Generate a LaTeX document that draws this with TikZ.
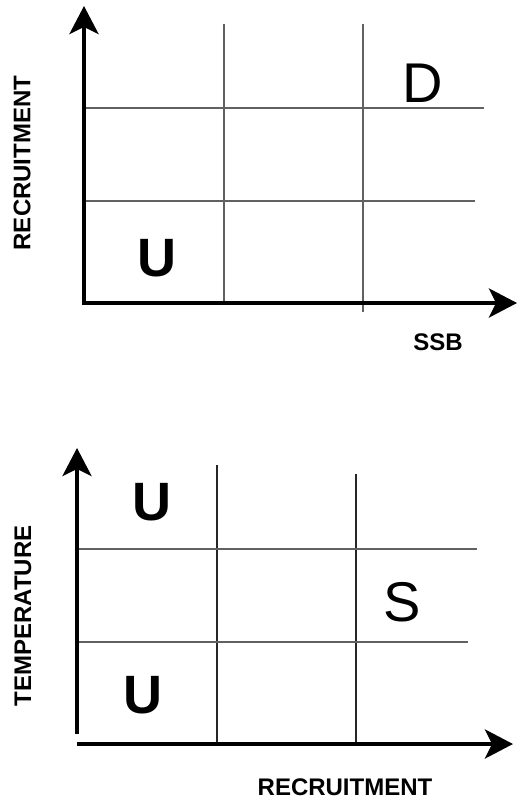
\documentclass[tikz,border=0pt]{standalone}
\usepackage{fontspec}
\setmainfont{Liberation Sans}
\usetikzlibrary{arrows.meta}
\tikzset{
  axis/.style={line width=4pt, -{Stealth[length=28pt, width=29pt, inset=7pt]}},
  grid/.style={line width=1.3pt, draw=black!62},
  gridv/.style={line width=1.1pt, draw=black!85},
  cell/.style={inner sep=0pt, font=\fontsize{54}{60}\selectfont\bfseries},
  cellr/.style={inner sep=0pt, font=\fontsize{56}{62}\selectfont},
  axlabel/.style={inner sep=0pt, font=\fontsize{24}{28}\selectfont\bfseries},
}
\begin{document}
\begin{tikzpicture}[x=1pt, y=-1pt]
\useasboundingbox (0,0) rectangle (518,801);

% ---- upper panel: recruitment vs SSB ----
\coordinate (o1) at (84,303);
\coordinate (y1) at (84,6);
\coordinate (x1) at (517,303);
\draw[grid] (224,24) -- (224,303);
\draw[grid] (363,24) -- (363,312);
\draw[grid] (86,108) -- (484,108);
\draw[grid] (86,201) -- (475,201);
\draw[axis] (o1) -- (y1);
\draw[axis] ([xshift=-2pt]o1) -- (x1);
\node[cellr] (d1) at (423,83) {D};
\node[cell] (u1) at (157,258) {U};
\node[axlabel, rotate=90] (ry) at (22,163) {RECRUITMENT};
\node[axlabel] (ssb) at (438,342) {SSB};

% ---- lower panel: temperature vs recruitment ----
\coordinate (o2y) at (77,734);
\coordinate (y2) at (77,448);
\coordinate (o2x) at (77,744);
\coordinate (x2) at (513,744);
\draw[gridv] (217,465) -- (217,744);
\draw[gridv] (356,474) -- (356,744);
\draw[grid] (79,549) -- (477,549);
\draw[grid] (79,642) -- (468,642);
\draw[axis] (o2y) -- (y2);
\draw[axis] (o2x) -- (x2);
\node[cell] (u2) at (152,502) {U};
\node[cell] (u3) at (143,695) {U};
\node[cellr] (s2) at (402,602) {S};
\node[axlabel, rotate=90] (ty) at (23,616) {TEMPERATURE};
\node[axlabel] (rx) at (345,787) {RECRUITMENT};
\end{tikzpicture}
\end{document}
